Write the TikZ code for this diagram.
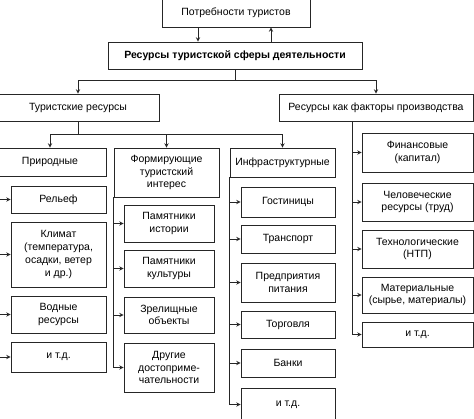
\documentclass[tikz,border=0pt]{standalone}
\usepackage{fontspec}
\setmainfont{Liberation Sans}
\usetikzlibrary{arrows}
\newcommand{\blk}[6]{
	\node[box, minimum width={(#4-#2)*1pt}, minimum height={(#5-#3)*1pt}] (#1) at ({(#2+#4)/2},{(#3+#5)/2}) {#6};
	}
\newcommand{\fork}[2]{
	\draw[arr] (#1 |- #2.west) -- (#2.west);
	}
\begin{document}
\begin{tikzpicture}[
      x=1pt, y=-1pt,
      box/.style={draw=black!85, line width=0.9pt, inner sep=0pt, align=center,
                  text=black, font=\fontsize{10.5}{12.7}\selectfont},
      arr/.style={draw=black!85, line width=0.9pt, ->, >=stealth}
    ]
    \useasboundingbox (0,0) rectangle (474,418);
    \clip (0,0) rectangle (474,418);
    % top levels
    \blk{need}{162}{-1}{310}{27}{Потребности туристов}
    \blk{res}{108}{42}{362}{69}{\bfseries Ресурсы туристской сферы деятельности}
    \blk{tour}{-3}{94}{159}{121}{Туристские ресурсы}
    \blk{factor}{279}{94}{473}{121}{Ресурсы как факторы производства}
    \draw[arr] ([xshift=-38pt]need.south) -- ([xshift=-37pt]res.north);
    \draw[arr] ([xshift=36pt]res.north) -- ([xshift=35pt]need.south);
    \draw[arr] (res.south) -- ++(0,11) -| (tour.north);
    \draw[arr] (res.south) -- ++(0,11) -| (factor.north);
    % tourist resources
    \blk{nat}{-6}{148}{106}{176}{Природные}
    \blk{form}{114}{148}{219}{197}{Формирующие\\туристский\\интерес}
    \blk{infra}{230}{148}{335}{177}{Инфраструктурные}
    \draw[arr] (tour.south) -- ++(0,13) -| (nat.north);
    \draw[arr] (tour.south) -- ++(0,13) -| (form.north);
    \draw[arr] (tour.south) -- ++(0,13) -| (infra.north);
    % natural
    \blk{relief}{11}{186}{106}{213}{Рельеф}
    \blk{climate}{11}{222}{106}{287}{Климат\\(температура,\\осадки, ветер\\и др.)}
    \blk{water}{11}{296}{106}{333}{Водные\\ресурсы}
    \blk{netc}{11}{342}{106}{372}{и т.д.}
    \draw[arr] (nat.south west) |- (netc.west);
    \fork{nat.south west}{relief}
    \fork{nat.south west}{climate}
    \fork{nat.south west}{water}
    % interest
    \blk{hist}{124}{205}{214}{242}{Памятники\\истории}
    \blk{cult}{124}{250}{214}{287}{Памятники\\культуры}
    \blk{show}{124}{297}{214}{333}{Зрелищные\\объекты}
    \blk{sights}{124}{343}{214}{392}{Другие\\достоприме-\\чательности}
    \draw[arr] (form.south west) |- (sights.west);
    \fork{form.south west}{hist}
    \fork{form.south west}{cult}
    \fork{form.south west}{show}
    % infrastructure
    \blk{hotel}{241}{187}{335}{217}{Гостиницы}
    \blk{trans}{241}{225}{335}{253}{Транспорт}
    \blk{food}{241}{263}{335}{302}{Предприятия\\питания}
    \blk{trade}{241}{311}{335}{338}{Торговля}
    \blk{bank}{241}{349}{335}{377}{Банки}
    \blk{ietc}{241}{388}{335}{421}{и т.д.}
    \draw[arr] (infra.south west) |- (ietc.west);
    \fork{infra.south west}{hotel}
    \fork{infra.south west}{trans}
    \fork{infra.south west}{food}
    \fork{infra.south west}{trade}
    \fork{infra.south west}{bank}
    % production factors
    \blk{fin}{362}{133}{473}{172}{Финансовые\\(капитал)}
    \blk{hum}{362}{183}{473}{221}{Человеческие\\ресурсы (труд)}
    \blk{tech}{362}{230}{473}{268}{Технологические\\(НТП)}
    \blk{mat}{362}{277}{473}{313}{Материальные\\(сырье, материалы)}
    \blk{fetc}{362}{322}{473}{347}{и т.д.}
    \coordinate (ftrunk) at ([xshift=-24pt]factor.south);
    \draw[arr] (ftrunk) |- (fetc.west);
    \fork{ftrunk}{fin}
    \fork{ftrunk}{hum}
    \fork{ftrunk}{tech}
    \fork{ftrunk}{mat}
\end{tikzpicture}
\end{document}
